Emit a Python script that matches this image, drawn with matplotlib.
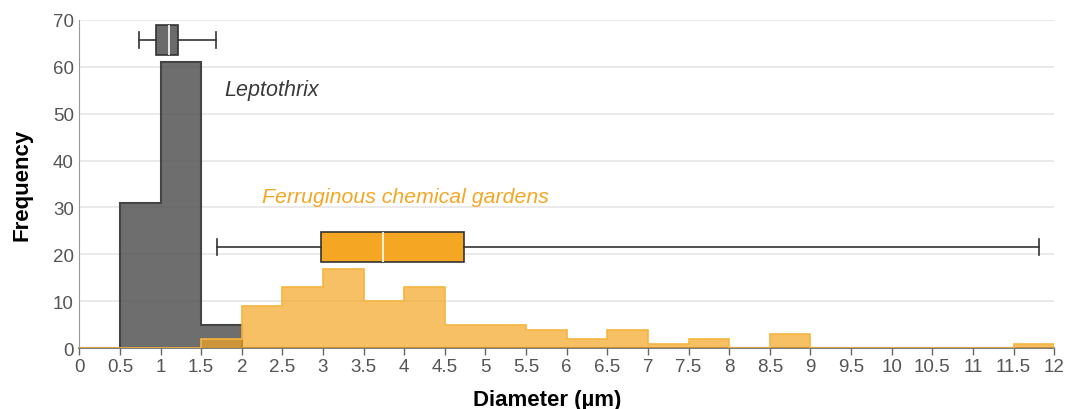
import matplotlib
matplotlib.use("Agg")
import matplotlib.pyplot as plt
import numpy as np

plt.rcParams['font.family'] = ['Liberation Sans', 'DejaVu Sans']

# Histogram bins (µm)
bin_edges = [0, 0.5, 1, 1.5, 2, 2.5, 3, 3.5, 4, 4.5, 5, 5.5, 6, 6.5, 7, 7.5, 8,
             8.5, 9, 9.5, 10, 10.5, 11, 11.5, 12]
lepto_counts = [0, 31, 61, 5, 0, 0, 0, 0, 0, 0, 0, 0, 0, 0, 0, 0, 0, 0, 0, 0, 0, 0, 0, 0]
ferro_counts = [0, 0, 0, 2, 9, 13, 17, 10, 13, 5, 5, 4, 2, 4, 1, 2, 0, 3, 0, 0, 0, 0, 0, 1]

# Box plot statistics
lepto_box = dict(whislo=0.73, q1=0.94, med=1.10, q3=1.22, whishi=1.68)
ferro_box = dict(whislo=1.69, q1=2.97, med=3.74, q3=4.73, whishi=11.81)
box_positions = [65.7, 21.6]

xticks = [i * 0.5 for i in range(25)]
xtick_labels = [("%g" % v) for v in xticks]
yticks = [0, 10, 20, 30, 40, 50, 60, 70]

dark = '#555555'
orange = '#f5a623'

fig = plt.figure(figsize=(10.67, 4.10), dpi=100)
ax = fig.add_axes([0.0743, 0.148, 0.9137, 0.8015])

ax.set_xlim(0, 12)
ax.set_ylim(0, 70)
ax.set_yticks(yticks)
ax.yaxis.grid(True, color='#e6e6e6', linewidth=1.2)
ax.set_axisbelow(True)

edges = np.array(bin_edges)
ax.stairs(lepto_counts, edges, fill=True, color=dark, alpha=0.85, zorder=2)
ax.stairs(lepto_counts, edges, fill=False, color='#444444', linewidth=1.5, zorder=2.1)
ax.stairs(ferro_counts, edges, fill=True, color=orange, alpha=0.7, zorder=3)
ax.stairs(ferro_counts, edges, fill=False, color='#f5b540', linewidth=1.2, zorder=3.1)

stats = [dict(lepto_box), dict(ferro_box)]
bp = ax.bxp(stats, positions=box_positions, widths=6.4, orientation='horizontal',
            showfliers=False, patch_artist=True, capwidths=3.5, manage_ticks=False,
            zorder=4)
bp['boxes'][0].set(facecolor='#6b6b6b', edgecolor='#333333', linewidth=1.2)
bp['boxes'][1].set(facecolor=orange, edgecolor='#333333', linewidth=1.2)
for m in bp['medians']:
    m.set(color='white', linewidth=1.2)
for w in bp['whiskers']:
    w.set(color='#333333', linewidth=1.2)
for c in bp['caps']:
    c.set(color='#333333', linewidth=1.2)

ax.text(1.78, 55.2, 'Leptothrix', style='italic', fontsize=15.5, color='#3a3a3a',
        va='center', ha='left')
ax.text(2.25, 32.4, 'Ferruginous chemical gardens', style='italic', fontsize=15.3,
        color=orange, va='center', ha='left')

ax.set_xticks(xticks)
ax.set_xticklabels(xtick_labels)
ax.tick_params(axis='x', colors='#666666', labelcolor='#555555', labelsize=13.5,
               length=5, width=1, pad=2)
ax.tick_params(axis='y', length=0, labelcolor='#555555', labelsize=13.5, pad=4)

for s in ['top', 'right']:
    ax.spines[s].set_visible(False)
ax.spines['left'].set_color('#999999')
ax.spines['bottom'].set_color('#666666')
ax.spines['bottom'].set_linewidth(1.2)

ax.set_xlabel('Diameter (µm)', fontsize=16, fontweight='bold', color='black')
ax.xaxis.set_label_coords(0.48, -0.157)
ax.xaxis.label.set_va('center')
ax.set_ylabel('Frequency', fontsize=16, fontweight='bold', color='black')
ax.yaxis.set_label_coords(-0.0588, 0.5)
ax.yaxis.label.set_va('center')

fig.savefig('out.png', dpi=100)
